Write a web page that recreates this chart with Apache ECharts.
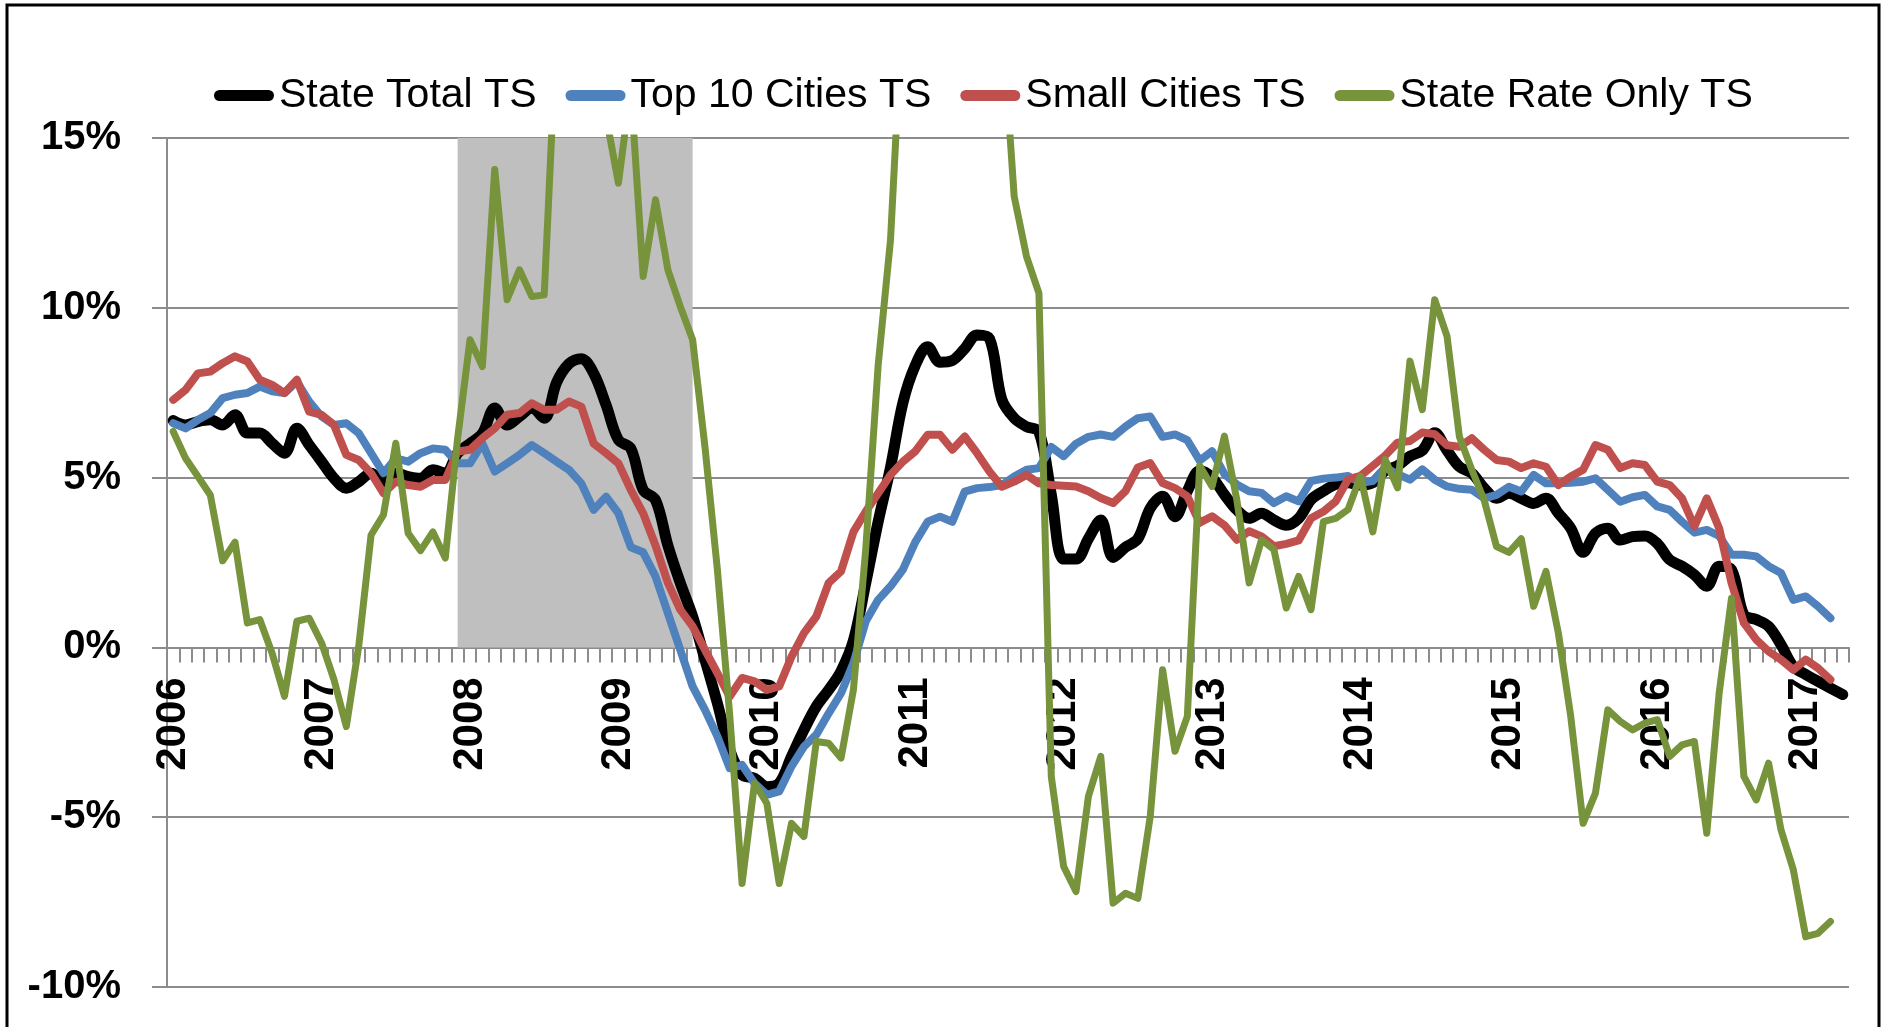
<!DOCTYPE html>
<html><head><meta charset="utf-8">
<script src="https://cdn.jsdelivr.net/npm/echarts/dist/echarts.min.js"></script>
<style>html,body{margin:0;padding:0;background:#fff}#c{width:1885px;height:1027px}</style>
</head><body><div id="c"></div><script>
// Monthly categories Jan 2006 .. Apr 2017
const years = ['2006','2007','2008','2009','2010','2011','2012','2013','2014','2015','2016','2017'];
const monthCodes = ['01','02','03','04','05','06','07','08','09','10','11','12'];
const months = [];
years.forEach(y => monthCodes.forEach(m => months.push(y + '-' + m)));
const categories = months.slice(0, 136);

const seriesNames = ['State Total TS', 'Top 10 Cities TS', 'Small Cities TS', 'State Rate Only TS'];

const stateTotal = [
 6.68, 6.55, 6.65, 6.70, 6.55, 6.85, 6.31, 6.31, 6.01, 5.72,
 6.45, 5.96, 5.47, 4.98, 4.69, 4.88, 5.13, 4.88, 5.13, 5.03,
 4.98, 5.23, 5.13, 5.72, 6.0, 6.3, 7.05, 6.55, 6.8, 7.05,
 6.75, 7.8, 8.35, 8.5, 8.07, 7.14, 6.11, 5.86, 4.64, 4.34,
 3.0, 1.9, 0.91, -0.36, -1.64, -3.02, -3.75, -3.85, -4.1, -4.0,
 -3.21, -2.43, -1.74, -1.25, -0.7, 0.2, 1.9, 3.7, 5.3, 7.2,
 8.3, 8.85, 8.4, 8.45, 8.8, 9.2, 9.1, 7.3, 6.75, 6.5,
 6.35, 4.5, 2.6, 2.6, 3.2, 3.75, 2.65, 2.95, 3.2, 4.1,
 4.45, 3.85, 4.6, 5.2, 5.0, 4.5, 4.05, 3.8, 3.95, 3.75,
 3.6, 3.8, 4.35, 4.6, 4.8, 4.85, 4.78, 4.85, 5.2, 5.35,
 5.63, 5.8, 6.32, 5.8, 5.32, 5.13, 4.69, 4.39, 4.54, 4.39,
 4.24, 4.39, 3.95, 3.51, 2.8, 3.36, 3.51, 3.16, 3.26, 3.28,
 3.06, 2.58, 2.39, 2.14, 1.8, 2.39, 2.29, 0.96, 0.82, 0.62,
 0.08, -0.56, -0.8, -1.0, -1.2, -1.39
];

const top10Cities = [
 6.6, 6.45, 6.7, 6.9, 7.34, 7.44, 7.49, 7.68, 7.54, 7.49,
 7.83, 7.24, 6.8, 6.55, 6.6, 6.31, 5.72, 5.13, 5.57, 5.47,
 5.72, 5.86, 5.82, 5.42, 5.42, 6.01, 5.18, 5.42, 5.67, 5.96,
 5.72, 5.47, 5.23, 4.83, 4.05, 4.44, 3.95, 2.95, 2.8, 2.09,
 1.01, -0.07, -1.15, -1.84, -2.62, -3.56, -3.46, -4.0, -4.34, -4.24,
 -3.5, -2.92, -2.57, -1.94, -1.35, -0.46, 0.77, 1.4, 1.8, 2.29,
 3.1, 3.7, 3.85, 3.7, 4.59, 4.69, 4.72, 4.78, 5.03, 5.23,
 5.28, 5.9, 5.63, 6.0, 6.2, 6.27, 6.2, 6.5, 6.75, 6.8,
 6.2, 6.27, 6.1, 5.5, 5.78, 5.1, 4.8, 4.6, 4.55, 4.25,
 4.45, 4.3, 4.9, 4.97, 5.0, 5.05, 4.85, 4.9, 5.3, 5.1,
 4.94, 5.24, 4.94, 4.74, 4.67, 4.64, 4.39, 4.49, 4.73, 4.59,
 5.08, 4.83, 4.83, 4.85, 4.88, 4.98, 4.64, 4.29, 4.42, 4.49,
 4.15, 4.05, 3.7, 3.38, 3.46, 3.28, 2.73, 2.73, 2.68, 2.39,
 2.19, 1.4, 1.5, 1.21, 0.86
];

const smallCities = [
 7.29, 7.58, 8.07, 8.12, 8.37, 8.57, 8.42, 7.88, 7.73, 7.49,
 7.88, 6.94, 6.85, 6.55, 5.67, 5.52, 5.13, 4.54, 4.88, 4.78,
 4.73, 4.93, 4.93, 5.77, 5.82, 6.16, 6.45, 6.85, 6.9, 7.19,
 7.0, 7.0, 7.24, 7.09, 6.0, 5.72, 5.42, 4.64, 3.95, 3.0,
 1.9, 1.11, 0.62, -0.07, -0.76, -1.45, -0.9, -1.0, -1.25, -1.15,
 -0.27, 0.42, 0.91, 1.9, 2.24, 3.4, 4.0, 4.54, 5.08, 5.47,
 5.77, 6.26, 6.26, 5.82, 6.21, 5.72, 5.18, 4.73, 4.88, 5.08,
 4.83, 4.78, 4.76, 4.74, 4.6, 4.4, 4.25, 4.6, 5.3, 5.43,
 4.84, 4.69, 4.45, 3.67, 3.86, 3.6, 3.17, 3.42, 3.27, 2.98,
 3.05, 3.15, 3.8, 4.0, 4.3, 4.95, 5.05, 5.35, 5.65, 6.03,
 6.08, 6.33, 6.28, 5.95, 5.91, 6.16, 5.82, 5.52, 5.47, 5.28,
 5.42, 5.32, 4.78, 5.03, 5.23, 5.96, 5.82, 5.28, 5.42, 5.37,
 4.88, 4.78, 4.39, 3.56, 4.39, 3.51, 1.9, 0.72, 0.23, -0.12,
 -0.36, -0.66, -0.36, -0.61, -0.95
];

const stateRateOnly = [
 6.36, 5.57, 5.03, 4.49, 2.55, 3.1, 0.72, 0.82, -0.17, -1.44,
 0.77, 0.86, 0.13, -0.95, -2.33, 0.03, 3.31, 3.9, 6.01, 3.36,
 2.85, 3.4, 2.63, 6.16, 9.06, 8.27, 14.07, 10.24, 11.12, 10.33,
 10.38, 18.2, 20.5, 22.0, 19.0, 15.64, 13.67, 16.5, 10.92, 13.18,
 11.12, 10.04, 9.06, 5.9, 2.3, -2.0, -6.95, -4.0, -4.59, -6.95,
 -5.18, -5.57, -2.77, -2.82, -3.26, -1.25, 2.9, 8.3, 12.0, 19.0,
 24.0, 27.0, 29.0, 27.5, 25.0, 23.0, 21.0, 18.6, 13.28, 11.51,
 10.43, -3.8, -6.45, -7.19, -4.39, -3.21, -7.53, -7.24, -7.39, -4.98,
 -0.66, -3.06, -2.03, 5.35, 4.74, 6.22, 4.35, 1.9, 3.17, 2.88,
 1.16, 2.09, 1.11, 3.7, 3.8, 4.06, 5.04, 3.4, 5.53, 4.7,
 8.43, 7.0, 10.24, 9.16, 6.2, 5.23, 4.34, 2.97, 2.8, 3.2,
 1.21, 2.24, 0.42, -2.03, -5.18, -4.29, -1.84, -2.18, -2.43, -2.23,
 -2.13, -3.21, -2.87, -2.77, -5.47, -1.35, 1.45, -3.8, -4.49, -3.41,
 -5.37, -6.55, -8.52, -8.42, -8.07
];

// Recession shading (Dec 2007 - Jul 2009)
const recessionStart = '2007-12';
const recessionEnd = '2009-07';

const yMin = -10, yMax = 15;
const gridTop = 138, gridBottom = 40, chartH = 1027;
const plotH = chartH - gridTop - gridBottom;
// distance from plot bottom to the 0% line
const zeroOffset = plotH * (0 - yMin) / (yMax - yMin);

const gridColor = '#8c8c8c';
const chart = echarts.init(document.getElementById('c'));
const pill = 'path://M5.5,0H54.5A5.5,5.5,0,0,1,54.5,11H5.5A5.5,5.5,0,0,1,5.5,0Z';
chart.setOption({
  animation: false,
  backgroundColor: '#ffffff',
  graphic: [{
    type: 'rect', silent: true, z: 100,
    shape: { x: 7, y: 5, width: 1872, height: 1060 },
    style: { fill: 'none', stroke: '#000', lineWidth: 3 }
  }],
  legend: {
    data: seriesNames,
    left: 209, top: 70,
    itemWidth: 60, itemHeight: 11, itemGap: 29,
    icon: pill,
    textStyle: { fontFamily: 'Liberation Sans', fontSize: 41, color: '#000' }
  },
  grid: { left: 167, right: 36, top: gridTop, bottom: gridBottom, containLabel: false, outerBoundsMode: 'none' },
  xAxis: {
    type: 'category',
    data: categories,
    boundaryGap: true,
    position: 'bottom',
    offset: -zeroOffset,
    axisLine: { onZero: false, lineStyle: { color: gridColor, width: 2 } },
    axisTick: { show: true, interval: 0, length: 15, lineStyle: { color: gridColor, width: 2 } },
    axisLabel: {
      interval: 11, rotate: 90, margin: 30, hideOverlap: false,
      fontFamily: 'Liberation Sans', fontWeight: 'bold', fontSize: 42, color: '#000',
      formatter: v => v.slice(0, 4)
    },
    splitLine: { show: false }
  },
  yAxis: {
    type: 'value', min: yMin, max: yMax, interval: 5,
    axisLine: { show: true, lineStyle: { color: gridColor, width: 2 } },
    axisTick: { show: true, length: 15, lineStyle: { color: gridColor, width: 2 } },
    axisLabel: {
      margin: 46, formatter: '{value}%',
      fontFamily: 'Liberation Sans', fontWeight: 'bold', fontSize: 40, color: '#000'
    },
    splitLine: { show: true, lineStyle: { color: gridColor, width: 2 } }
  },
  series: [
    {
      name: 'recession', type: 'line', data: [], z: 1, silent: true,
      markArea: {
        silent: true,
        itemStyle: { color: '#BFBFBF', opacity: 1 },
        data: [[{ xAxis: recessionStart, yAxis: 0 }, { xAxis: recessionEnd, yAxis: 15 }]]
      }
    },
    {
      name: seriesNames[0], type: 'line', data: stateTotal, color: '#000000',
      symbol: 'none', smooth: 0.35, z: 3,
      lineStyle: { width: 11, cap: 'round', join: 'round' }
    },
    {
      name: seriesNames[1], type: 'line', data: top10Cities, color: '#4F81BD',
      symbol: 'none', z: 4,
      lineStyle: { width: 8, cap: 'round', join: 'round' }
    },
    {
      name: seriesNames[2], type: 'line', data: smallCities, color: '#C0504D',
      symbol: 'none', z: 5,
      lineStyle: { width: 8, cap: 'round', join: 'round' }
    },
    {
      name: seriesNames[3], type: 'line', data: stateRateOnly, color: '#77933C',
      symbol: 'none', z: 6, clip: true,
      lineStyle: { width: 7, cap: 'round', join: 'round' }
    }
  ]
});
</script></body></html>
